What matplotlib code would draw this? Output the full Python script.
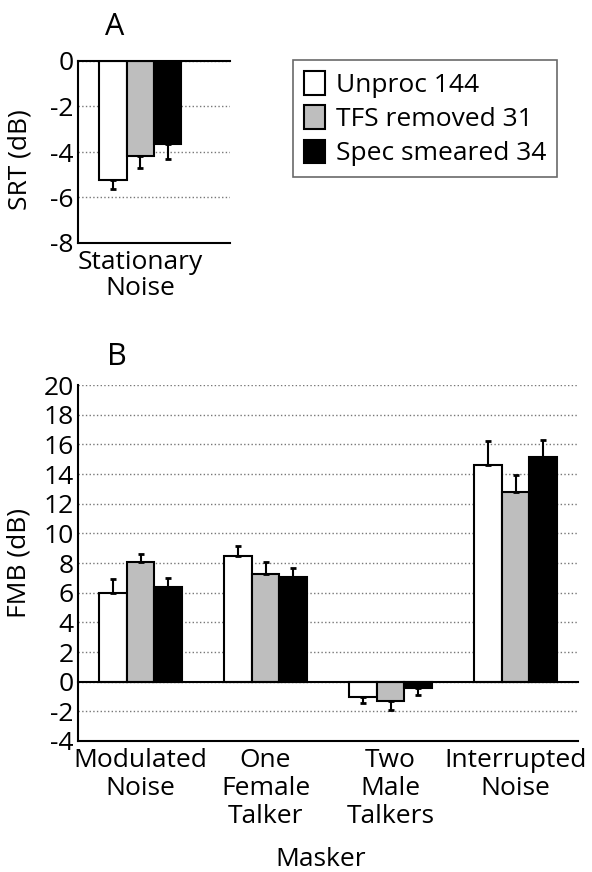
import matplotlib
matplotlib.use('Agg')
import matplotlib.pyplot as plt
from matplotlib.patches import Patch
import numpy as np

plt.rcParams['font.family'] = ['Open Sans', 'DejaVu Sans']
plt.rcParams['axes.unicode_minus'] = False

# dados
series = ['Unproc 144', 'TFS removed 31', 'Spec smeared 34']
cores = ['white', '#bebebe', 'black']

# painel A: SRT em ruido estacionario
cat_a = ['Stationary\nNoise']
srt_media = [-5.23, -4.18, -3.65]
srt_erro = [0.41, 0.54, 0.67]

# painel B: FMB por mascarador
cat_b = ['Modulated\nNoise', 'One\nFemale\nTalker', 'Two\nMale\nTalkers', 'Interrupted\nNoise']
fmb_unproc = [5.95, 8.48, -1.00, 14.58]
fmb_tfs = [8.10, 7.27, -1.28, 12.80]
fmb_spec = [6.36, 7.05, -0.40, 15.12]
erro_unproc = [0.96, 0.69, 0.45, 1.62]
erro_tfs = [0.49, 0.83, 0.62, 1.10]
erro_spec = [0.62, 0.60, 0.50, 1.18]

fs = 19
larg = 0.22

fig = plt.figure(figsize=(5.92, 8.72), dpi=100)
ax_a = fig.add_axes([78/592, 1-243/872, 152/592, 182/872])
ax_b = fig.add_axes([78/592, 1-741/872, 500/592, 356/872])


def barras(ax, x, vals, errs, cor):
    vals = np.array(vals)
    errs = np.array(errs)
    ax.bar(x, vals, larg, color=cor, edgecolor='black', linewidth=1.5, zorder=3)
    cima = np.where(vals >= 0, errs, 0)
    baixo = np.where(vals < 0, errs, 0)
    ax.errorbar(x, vals, yerr=[baixo, cima], fmt='none', ecolor='black',
                elinewidth=1.5, capsize=2.5, capthick=2, zorder=4)


def estilo(ax):
    for s in ['top', 'right']:
        ax.spines[s].set_visible(False)
    ax.spines['left'].set_linewidth(1.5)
    ax.spines['bottom'].set_linewidth(1.5)
    ax.tick_params(length=0, labelsize=fs)
    ax.tick_params(axis='y', pad=3)
    ax.tick_params(axis='x', pad=5)
    ax.yaxis.grid(True, linestyle=':', color='#777777', linewidth=1)
    ax.set_axisbelow(True)
    ax.axhline(0, color='black', linewidth=1.5, zorder=5, clip_on=False)


# painel A
xa = np.arange(1, len(cat_a) + 1)
for i, (m, e) in enumerate(zip(srt_media, srt_erro)):
    barras(ax_a, xa + (i - 1) * larg, [m], [e], cores[i])
estilo(ax_a)
ax_a.set_xlim(0.5, 1.72)
ax_a.set_ylim(-8, 0)
ax_a.set_yticks(np.arange(-8, 1, 2))
ax_a.set_xticks(xa)
ax_a.set_xticklabels(cat_a, linespacing=1.05)
ax_a.set_ylabel('SRT (dB)', fontsize=fs)
ax_a.yaxis.set_label_coords(-0.30, 0.46)

# painel B
xb = np.arange(1, len(cat_b) + 1)
for i, (v, e) in enumerate([(fmb_unproc, erro_unproc), (fmb_tfs, erro_tfs), (fmb_spec, erro_spec)]):
    barras(ax_b, xb + (i - 1) * larg, v, e, cores[i])
estilo(ax_b)
ax_b.set_xlim(0.5, 4.5)
ax_b.set_ylim(-4, 20)
ax_b.set_yticks(np.arange(-4, 21, 2))
ax_b.set_xticks(xb)
ax_b.set_xticklabels(cat_b, linespacing=1.15)
ax_b.set_ylabel('FMB (dB)', fontsize=fs)
ax_b.yaxis.set_label_coords(-0.092, 0.5)
ax_b.set_xlabel('Masker', fontsize=fs)
ax_b.xaxis.set_label_coords(0.486, -0.298)

fig.text(115/592, 1-27/872, 'A', fontsize=22, ha='center', va='center')
fig.text(117/592, 1-357/872, 'B', fontsize=22, ha='center', va='center')

# legenda
handles = [Patch(facecolor=c, edgecolor='black', linewidth=1.5) for c in cores]
leg = fig.legend(handles, series, loc='upper left', bbox_to_anchor=(293/592, 1-60/872),
                 fontsize=fs, frameon=True, fancybox=False, edgecolor='#444444',
                 handlelength=0.8, handleheight=1.0, handletextpad=0.4,
                 labelspacing=0.28, borderpad=0.42, borderaxespad=0)
leg.get_frame().set_linewidth(1.2)

fig.savefig('out.png', dpi=100)
